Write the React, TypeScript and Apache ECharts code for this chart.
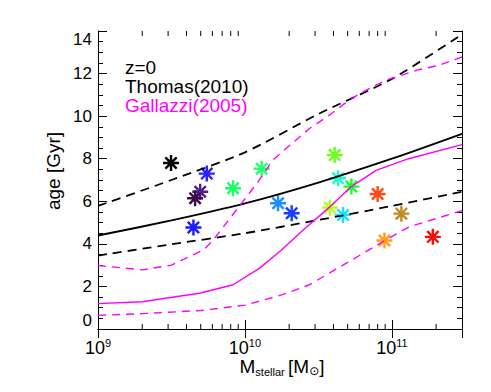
import React, { useEffect, useRef } from 'react';
import * as echarts from 'echarts';

// Thomas (2010) relation
const thomasMass = [1e9, 3.16e9, 1e10, 3.16e10, 1e11, 3e11];
const thomasMedian = [4.39, 5.1, 5.9, 6.88, 8.0, 9.17];
const thomasUpper = [5.78, 7.0, 8.3, 10.1, 11.75, 13.84];
const thomasLower = [3.45, 3.98, 4.5, 5.12, 5.78, 6.45];

// Gallazzi (2005) relation
const gallMedMass = [1e9, 2e9, 5e9, 8.3e9, 1.26e10, 1.78e10, 2.5e10, 3.8e10, 5.3e10, 7.8e10, 1.3e11, 3e11];
const gallMedAge = [1.19, 1.28, 1.69, 2.08, 2.86, 3.72, 4.66, 5.75, 6.69, 7.45, 8.0, 8.66];
const gallUpMass = [1e9, 2e9, 3.16e9, 5.25e9, 6.1e9, 1.23e10, 1.55e10, 2.09e10, 2.75e10, 3.63e10, 4.79e10, 6.03e10, 9.12e10, 1.48e11, 2.09e11, 3e11];
const gallUpAge = [2.98, 2.78, 3.0, 3.72, 4.19, 6.92, 7.94, 8.72, 9.42, 9.97, 10.6, 11.06, 11.69, 12.16, 12.39, 12.78];
const gallLoMass = [1e9, 2e9, 5e9, 1e10, 1.78e10, 2.75e10, 4.9e10, 8.7e10, 1.32e11, 3e11];
const gallLoAge = [0.64, 0.72, 0.87, 1.12, 1.6, 2.08, 3.09, 4.11, 4.81, 5.56];

// Model galaxies
const galMass = [3.14e9, 5.5e9, 4.96e9, 4.58e9, 4.46e9, 8.3e9, 1.3e10, 1.68e10, 2.08e10, 4.08e10, 4.3e10, 5.3e10, 3.78e10, 4.65e10, 8.0e10, 1.16e11, 8.9e10, 1.9e11];
const galAge = [7.8, 7.3, 6.45, 6.14, 4.77, 6.61, 7.53, 5.91, 5.44, 8.17, 7.08, 6.69, 5.7, 5.36, 6.34, 5.42, 4.16, 4.33];
const galColor = ['#000000', '#2a20ff', '#50208c', '#3a0a48', '#1c1cff', '#1cff6a', '#2aff72', '#1e8fff', '#1a3cff', '#6cff1a', '#1affd0', '#1aff2a', '#b4ff1a', '#1ae0ff', '#ff4a1a', '#c08a22', '#ffa01a', '#ff0a0a'];

// Axis ticks
const yTicks = [0, 2, 4, 6, 8, 10, 12, 14];
const xMinorTicks = [2e9, 3e9, 4e9, 5e9, 6e9, 7e9, 8e9, 9e9, 2e10, 3e10, 4e10, 5e10, 6e10, 7e10, 8e10, 9e10, 2e11];
const legendLines = ['z=0', 'Thomas(2010)', 'Gallazzi(2005)'];

const FONT = '"Liberation Sans", Arial, Helvetica, sans-serif';
const MAGENTA = '#ff00ff';

const asterisk =
  'path://M0 8.5L20 8.5L20 11.5L0 11.5Z' +
  'M8.5 0L11.5 0L11.5 20L8.5 20Z' +
  'M1.87 3.99L3.99 1.87L18.13 16.01L16.01 18.13Z' +
  'M16.01 1.87L18.13 3.99L3.99 18.13L1.87 16.01Z';

const zip = (xs: number[], ys: number[]) => xs.map((x, i) => [x, ys[i]]);

export default function App() {
  const ref = useRef<HTMLDivElement>(null);
  useEffect(() => {
    if (!ref.current) return;
    const chart = echarts.init(ref.current, undefined, { renderer: 'svg' });
    const xMin = 1e9;
    const xMax = 3e11;
    const yMin = yTicks[0];
    const yMax = yTicks[yTicks.length - 1];
    const axisLine = { show: true, lineStyle: { color: '#000', width: 1 } };
    const option: any = {
      animation: false,
      backgroundColor: '#fff',
      grid: { left: 98, right: 29, top: 31, bottom: 63, containLabel: false },
      xAxis: [
        {
          type: 'log',
          logBase: 10,
          min: xMin,
          max: xMax,
          position: 'bottom',
          axisLine,
          splitLine: { show: false },
          axisTick: { show: true, inside: true, length: 9, lineStyle: { color: '#000' } },
          minorTick: { show: false },
          axisLabel: {
            show: true,
            margin: 8,
            showMaxLabel: false,
            hideOverlap: false,
            formatter: (v: number) => {
              const e = Math.log10(v);
              if (Math.abs(e - Math.round(e)) > 1e-6) return '';
              return `{b|10}{s|${Math.round(e)}}`;
            },
            rich: {
              b: { fontSize: 18, fontFamily: FONT, color: '#000', verticalAlign: 'bottom', lineHeight: 20 },
              s: { fontSize: 11, fontFamily: FONT, color: '#000', verticalAlign: 'top', lineHeight: 20 },
            },
          },
        },
        {
          type: 'log',
          logBase: 10,
          min: xMin,
          max: xMax,
          position: 'top',
          axisLine,
          splitLine: { show: false },
          axisTick: { show: true, inside: true, length: 9, lineStyle: { color: '#000' } },
          axisLabel: { show: false },
        },
      ],
      yAxis: [
        {
          type: 'value',
          min: yMin,
          max: yMax,
          interval: 2,
          position: 'left',
          axisLine,
          splitLine: { show: false },
          axisTick: { show: true, inside: true, length: 9, lineStyle: { color: '#000' } },
          minorTick: { show: true, splitNumber: 4, length: 5, lineStyle: { color: '#000' } },
          axisLabel: {
            show: true,
            margin: 6,
            fontSize: 17,
            fontFamily: FONT,
            color: '#000',
            verticalAlignMinLabel: 'bottom',
            verticalAlignMaxLabel: 'top',
          },
        },
        {
          type: 'value',
          min: yMin,
          max: yMax,
          interval: 2,
          position: 'right',
          axisLine,
          splitLine: { show: false },
          axisTick: { show: true, inside: true, length: 9, lineStyle: { color: '#000' } },
          minorTick: { show: true, splitNumber: 4, length: 5, lineStyle: { color: '#000' } },
          axisLabel: { show: false },
        },
      ],
      series: [
        {
          type: 'custom',
          silent: true,
          clip: false,
          data: xMinorTicks.map((v) => [v, yMin]),
          encode: { x: 0, y: 1 },
          renderItem: (_p: any, api: any) => {
            const v = api.value(0);
            const b = api.coord([v, yMin]);
            const t = api.coord([v, yMax]);
            const st = { stroke: '#000', lineWidth: 1 };
            return {
              type: 'group',
              children: [
                { type: 'line', shape: { x1: b[0], y1: b[1], x2: b[0], y2: b[1] - 5 }, style: st },
                { type: 'line', shape: { x1: t[0], y1: t[1], x2: t[0], y2: t[1] + 5 }, style: st },
              ],
            };
          },
        },
        {
          name: 'Thomas median',
          type: 'line',
          data: zip(thomasMass, thomasMedian),
          smooth: 0.25,
          showSymbol: false,
          symbol: 'none',
          lineStyle: { color: '#000', width: 1.9 },
        },
        {
          name: 'Thomas upper',
          type: 'line',
          data: zip(thomasMass, thomasUpper),
          smooth: 0.25,
          showSymbol: false,
          symbol: 'none',
          lineStyle: { color: '#000', width: 1.8, type: [9, 6] },
        },
        {
          name: 'Thomas lower',
          type: 'line',
          data: zip(thomasMass, thomasLower),
          smooth: 0.25,
          showSymbol: false,
          symbol: 'none',
          lineStyle: { color: '#000', width: 1.8, type: [9, 6] },
        },
        {
          name: 'Gallazzi median',
          type: 'line',
          data: zip(gallMedMass, gallMedAge),
          showSymbol: false,
          symbol: 'none',
          lineStyle: { color: MAGENTA, width: 1.4 },
        },
        {
          name: 'Gallazzi upper',
          type: 'line',
          data: zip(gallUpMass, gallUpAge),
          showSymbol: false,
          symbol: 'none',
          lineStyle: { color: MAGENTA, width: 1.4, type: [8, 6] },
        },
        {
          name: 'Gallazzi lower',
          type: 'line',
          data: zip(gallLoMass, gallLoAge),
          showSymbol: false,
          symbol: 'none',
          lineStyle: { color: MAGENTA, width: 1.4, type: [8, 6] },
        },
        {
          name: 'galaxies',
          type: 'scatter',
          symbol: asterisk,
          symbolSize: 16,
          itemStyle: { opacity: 1 },
          data: galMass.map((m, i) => ({ value: [m, galAge[i]], itemStyle: { color: galColor[i], opacity: 1 } })),
        },
      ],
      graphic: [
        {
          type: 'text',
          x: 125,
          y: 57.5,
          style: {
            text: legendLines.map((t, i) => (i === 2 ? `{g|${t}}` : `{k|${t}}`)).join('\n'),
            align: 'left',
            verticalAlign: 'top',
            rich: {
              k: { fontSize: 19, fontFamily: FONT, fill: '#000', lineHeight: 19 },
              g: { fontSize: 19, fontFamily: FONT, fill: MAGENTA, lineHeight: 19 },
            },
          },
        },
        {
          type: 'text',
          x: 53,
          y: 171,
          rotation: Math.PI / 2,
          style: {
            text: 'age [Gyr]',
            fill: '#000',
            fontSize: 19,
            fontFamily: FONT,
            align: 'center',
            verticalAlign: 'middle',
          },
        },
        {
          type: 'text',
          x: 282,
          y: 366,
          style: {
            text: '{m|M}{s|stellar} {m|[M}{o|⊙}{m|]}',
            align: 'center',
            verticalAlign: 'middle',
            rich: {
              m: { fontSize: 19, fontFamily: FONT, fill: '#000', lineHeight: 22, verticalAlign: 'middle' },
              s: { fontSize: 11, fontFamily: FONT, fill: '#000', lineHeight: 11, verticalAlign: 'bottom' },
              o: { fontSize: 12, fontFamily: '"DejaVu Sans", sans-serif', fill: '#000', lineHeight: 12, verticalAlign: 'bottom' },
            },
          },
        },
      ],
    };
    chart.setOption(option);
    return () => chart.dispose();
  }, []);
  return <div ref={ref} style={{ position: 'absolute', left: 0, top: 0, width: 491, height: 392 }} />;
}
